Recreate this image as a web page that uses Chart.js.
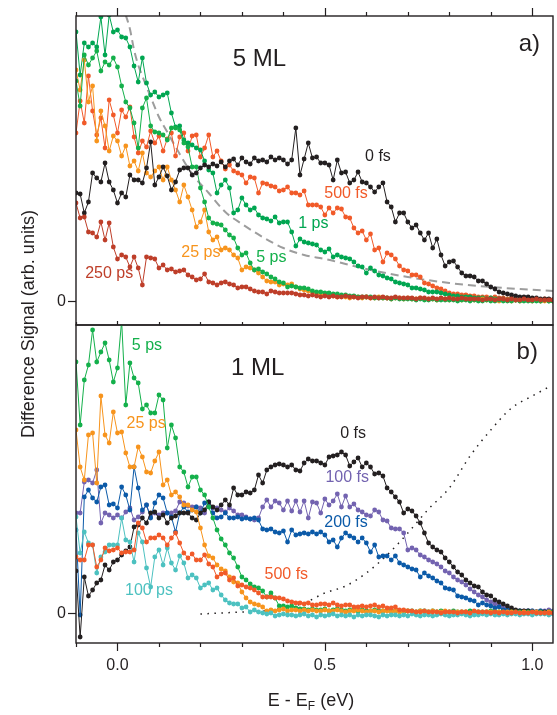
<!DOCTYPE html>
<html>
<head>
<meta charset="utf-8">
<script src="https://cdn.jsdelivr.net/npm/chart.js@4.4.1/dist/chart.umd.min.js"></script>
<style>
body{margin:0;background:#fff}
#wrap{position:relative;width:557px;height:715px;overflow:hidden;font-family:"Liberation Sans",Arial,Helvetica,sans-serif;color:#231f20}
canvas{position:absolute;left:0}
#ytitle{position:absolute;left:-122px;top:314px;width:300px;height:20px;line-height:20px;text-align:center;font-size:18px;transform:rotate(-90deg)}
#xtitle{position:absolute;left:161px;top:689px;width:300px;height:22px;line-height:22px;text-align:center;font-size:18px}
#xtitle sub{font-size:12px;vertical-align:-4px;line-height:0}
</style>
</head>
<body>
<div id="wrap">
<canvas id="topChart" width="557" height="330" style="top:0"></canvas>
<canvas id="botChart" width="557" height="395" style="top:320px"></canvas>
<div id="ytitle">Difference Signal (arb. units)</div>
<div id="xtitle">E - E<sub>F</sub> (eV)</div>
</div>
<script>
// energy grid (eV)
const energy = [
-0.10,-0.09,-0.08,-0.07,-0.06,-0.05,-0.04,-0.03,-0.02,-0.01,
0.00,0.01,0.02,0.03,0.04,0.05,0.06,0.07,0.08,0.09,
0.10,0.11,0.12,0.13,0.14,0.15,0.16,0.17,0.18,0.19,
0.20,0.21,0.22,0.23,0.24,0.25,0.26,0.27,0.28,0.29,
0.30,0.31,0.32,0.33,0.34,0.35,0.36,0.37,0.38,0.39,
0.40,0.41,0.42,0.43,0.44,0.45,0.46,0.47,0.48,0.49,
0.50,0.51,0.52,0.53,0.54,0.55,0.56,0.57,0.58,0.59,
0.60,0.61,0.62,0.63,0.64,0.65,0.66,0.67,0.68,0.69,
0.70,0.71,0.72,0.73,0.74,0.75,0.76,0.77,0.78,0.79,
0.80,0.81,0.82,0.83,0.84,0.85,0.86,0.87,0.88,0.89,
0.90,0.91,0.92,0.93,0.94,0.95,0.96,0.97,0.98,0.99,
1.00,1.01,1.02,1.03,1.04,1.05]

// ---- panel a) 5 ML ----
const a_0fs = [
108,107,88,99,128,123,119,138,119,111,
98,108,104,126,121,121,118,133,159,116,
124,134,125,111,119,131,133,133,126,128,
133,136,134,137,135,139,134,140,142,136,
143,139,137,143,140,141,139,144,141,143,
141,137,141,173,126,142,158,143,144,138,
138,136,121,141,128,129,118,121,129,119,
118,114,109,114,118,99,94,79,88,88,
79,73,76,68,61,68,53,62,46,35,
39,40,34,28,25,25,24,20,20,17,
14,12,9,8,7,6,5,4,4,4,
3,3,2,2,2,1]
const a_500fs = [
168,200,178,225,190,166,183,153,201,186,
168,191,184,194,164,148,160,154,170,158,
165,150,162,168,145,164,168,150,165,166,
144,153,166,144,150,140,132,136,130,128,
126,118,124,123,108,118,117,115,114,110,
111,114,108,108,106,110,96,96,96,94,
86,93,88,93,92,84,83,73,68,70,
61,67,51,53,39,48,46,42,35,31,
30,26,26,24,18,17,15,13,12,10,
8,7,7,6,6,5,5,4,4,4,
3,4,3,3,2,3,2,2,3,2,
2,2,1,2,1,1]
const a_1ps = [
269,226,258,254,258,254,284,246,286,269,
271,264,263,254,235,219,243,218,206,209,
204,206,208,188,174,175,161,158,156,153,
151,140,131,128,108,116,121,113,88,91,
103,96,91,93,86,83,82,80,84,78,
79,79,69,55,62,59,58,57,56,51,
49,52,44,46,44,43,42,39,35,34,
28,33,30,26,25,23,22,19,18,17,
16,13,13,12,11,9,9,9,8,7,
6,5,5,4,4,4,3,3,3,2,
3,2,2,2,1,2,1,1,2,1,
1,1,0,1,0,0]
const a_5ps = [
220,195,246,236,243,250,230,239,236,243,
234,215,199,193,178,153,193,203,175,169,
168,166,161,173,173,171,158,154,134,134,
113,99,83,78,77,76,71,66,63,53,
46,48,38,31,32,29,27,24,22,19,
18,14,15,14,13,13,12,10,9,9,
8,8,7,7,6,6,5,5,4,4,
4,4,3,3,3,3,2,3,2,2,
2,2,1,2,1,1,2,1,1,1,
1,1,0,1,1,0,1,0,0,1,
0,0,1,0,0,0,1,0,0,0,
0,0,0,1,0,0]
const a_25ps = [
231,211,241,199,215,160,190,175,150,165,
160,145,155,135,140,130,148,128,124,130,
134,121,134,121,111,99,116,104,91,74,
79,91,69,61,64,51,53,51,46,43,
31,34,33,31,28,24,20,19,19,16,
17,16,17,14,12,11,10,9,8,6,
6,5,5,4,5,4,3,4,4,3,
4,3,3,4,3,3,2,3,3,2,
3,2,2,3,2,2,2,1,2,2,
1,2,1,1,2,1,1,1,2,1,
1,1,0,1,1,0,1,0,1,1,
0,1,0,0,1,0]
const a_250ps = [
98,83,84,69,68,64,79,61,78,54,
42,46,44,34,44,33,16,44,43,42,
33,36,31,32,29,30,31,26,24,21,
22,27,19,18,16,18,19,17,16,13,
14,14,12,10,9,9,7,10,9,8,
8,8,8,7,6,6,5,6,5,4,
5,4,5,4,4,5,4,4,3,4,
4,3,4,3,4,3,3,4,3,3,
3,3,2,3,3,2,3,2,3,2,
3,2,2,3,2,2,2,2,1,2,
2,1,2,2,1,2,1,1,2,1,
1,2,1,1,1,1]
// fitted curve (dashed)
const a_fitX = [0.02,0.03,0.04,0.05,0.06,0.08,0.10,0.12,0.15,0.18,0.22,0.26,0.30,0.35,0.40,0.45,0.50,0.60,0.70,0.80,0.90,1.05]
const a_fitY = [286,272,251,236,225,204,184,169,147,127,108,89,77,64,53,46,42,32,24,18,14,10]

// ---- panel b) 1 ML ----
const b_0fs = [
42,-24,36,17,23,30,33,48,43,51,
53,58,62,66,86,88,95,90,100,101,
95,98,90,95,97,100,100,100,95,93,
100,103,111,106,103,108,113,108,125,118,
118,121,120,123,138,130,143,146,148,149,
148,146,148,143,142,150,154,152,152,150,
148,156,157,158,161,158,147,151,155,146,
150,146,139,140,137,125,121,116,111,100,
104,102,97,90,80,70,66,63,61,55,
51,46,41,38,33,30,27,26,21,18,
17,13,11,9,7,5,3,2,2,2,
1,1,1,1,1,0]
const b_100fs = [
100,100,131,133,130,143,90,100,98,95,
98,95,101,105,93,96,101,108,96,100,
98,100,100,100,102,111,110,107,106,106,
105,100,110,105,105,103,101,105,102,98,
98,96,94,93,95,106,113,106,112,110,
103,112,102,112,101,112,95,111,110,100,
114,108,112,119,106,117,106,109,103,101,
98,97,103,101,93,92,85,84,84,80,
63,65,63,58,56,53,51,49,46,42,
40,36,33,31,28,24,21,18,16,13,
11,9,7,6,4,3,2,2,2,2,
2,1,2,2,3,2]
const b_200fs = [
83,-2,116,123,115,111,126,128,108,109,
105,126,118,103,146,125,103,108,95,110,
118,115,100,96,81,100,106,101,103,106,
100,110,111,100,95,96,100,95,95,96,
94,95,94,95,93,84,83,84,81,80,
82,71,83,78,79,80,79,81,79,81,
78,71,73,66,75,80,77,75,71,75,
70,61,68,56,57,57,53,57,50,48,
46,44,43,36,40,37,35,32,30,25,
24,23,17,16,15,13,12,8,10,8,
7,5,6,3,3,2,2,2,1,2,
2,1,2,1,1,1]
const b_500fs = [
56,53,53,68,68,46,53,65,62,63,
65,60,61,61,63,90,85,71,75,75,
78,75,68,75,80,70,60,55,59,53,
53,58,49,46,36,39,40,33,35,27,
28,26,25,23,20,16,16,16,15,15,
14,12,11,10,10,9,10,8,8,9,
9,8,10,8,7,8,8,6,6,7,
6,7,8,6,7,5,5,6,3,3,
2,2,1,1,2,1,1,1,0,1,
1,1,0,1,1,0,2,1,1,1,
0,1,0,1,0,0,1,0,0,0,
1,0,0,0,0,0]
const b_5ps = [
251,188,233,248,283,251,261,270,253,231,
245,292,208,250,235,230,204,208,200,200,
218,213,165,188,175,146,141,126,136,136,
123,118,106,95,83,74,68,60,55,46,
36,33,29,26,25,22,16,20,15,7,
7,6,7,5,4,4,3,4,3,3,
4,2,3,4,3,2,3,3,2,3,
2,2,3,2,2,3,2,2,2,1,
2,2,1,2,2,1,2,1,2,1,
1,2,1,1,1,2,1,1,1,1,
2,1,1,1,0,1,1,1,0,1,
1,0,1,0,1,1]
const b_25ps = [
183,146,133,178,180,130,217,178,170,201,
180,181,160,146,146,166,156,141,140,152,
161,128,133,118,121,116,108,108,103,101,
85,68,57,55,48,44,42,36,31,30,
21,15,11,9,8,6,2,3,2,3,
4,2,3,3,2,3,2,3,2,2,
3,2,2,3,2,1,2,2,3,2,
1,2,2,1,2,2,1,2,1,2,
2,1,1,2,1,1,2,1,1,2,
1,0,1,1,1,0,1,1,0,1,
1,0,1,0,1,1,0,0,1,0,
0,1,0,0,1,0]
const b_100ps = [
96,60,81,70,68,40,56,61,68,68,
68,95,73,71,51,80,71,45,26,56,
63,48,65,50,43,57,50,35,38,35,
25,28,30,23,25,18,13,10,9,9,
5,6,1,3,1,0,-1,0,-3,-2,
-1,-2,-2,-3,-2,-1,-3,-2,-4,-2,
-3,-2,-1,-3,-2,-3,-2,-4,-2,-3,
-2,-2,-3,-4,-2,-3,-2,-2,-3,-2,
-3,-1,-2,-3,-2,-2,-3,-2,-1,-2,
-3,-2,-2,-1,-2,-3,-2,-2,-1,-2,
-1,-2,-2,-1,-2,-1,-1,-2,-1,-1,
-2,-1,-1,-1,-2,-1]
// model curve (dotted)
const b_modelX = [0.20,0.25,0.30,0.35,0.40,0.45,0.50,0.55,0.60,0.65,0.70,0.75,0.80,0.85,0.90,0.95,1.00,1.04]
const b_modelY = [-1,0,1,2,5,10,20,27,40,58,80,104,125,157,183,205,217,226]

const xMajor = [0, 0.5, 1.0]
const xMinor = [-0.1,0,0.1,0.2,0.3,0.4,0.5,0.6,0.7,0.8,0.9,1.0]
const xTickLabels = ["0.0", "0.5", "1.0"]

const topLabels = [
  {t:"5 ML", x:0.342, y:242, c:"#231f20", big:true},
  {t:"a)", x:0.993, y:257, c:"#231f20", big:true},
  {t:"0 fs", x:0.628, y:144, c:"#231f20"},
  {t:"500 fs", x:0.551, y:107, c:"#f15a29"},
  {t:"1 ps", x:0.472, y:77, c:"#00a651"},
  {t:"5 ps", x:0.371, y:43, c:"#14b04b"},
  {t:"25 ps", x:0.201, y:48, c:"#f7941d"},
  {t:"250 ps", x:-0.020, y:27, c:"#be3e29"}
]
const botLabels = [
  {t:"1 ML", x:0.338, y:245, c:"#231f20", big:true},
  {t:"b)", x:0.988, y:261, c:"#231f20", big:true},
  {t:"5 ps", x:0.071, y:267, c:"#14b04b"},
  {t:"25 ps", x:0.069, y:189, c:"#f7941d"},
  {t:"0 fs", x:0.568, y:179, c:"#231f20"},
  {t:"100 fs", x:0.554, y:135, c:"#7363b0"},
  {t:"200 fs", x:0.551, y:90, c:"#0b5aa8"},
  {t:"500 fs", x:0.407, y:38, c:"#f15a29"},
  {t:"100 ps", x:0.076, y:22, c:"#4cc1c0"}
]

const FONT = '"Liberation Sans", Arial, Helvetica, sans-serif'
const INK = "#231f20"

function pts(xs, ys){
  return ys.map((v,i)=>({x:xs[i], y:v}))
}

function series(vals, color){
  return {
    data: pts(energy, vals),
    borderColor: color,
    backgroundColor: color,
    borderWidth: 1,
    pointRadius: 2.4,
    pointBorderWidth: 0,
    pointBackgroundColor: color,
    tension: 0
  }
}

const framePlugin = {
  id: "frame",
  afterDatasetsDraw(chart, args, o){
    const ctx = chart.ctx
    const a = chart.chartArea
    const x = chart.scales.x, y = chart.scales.y
    ctx.save()
    ctx.strokeStyle = INK
    ctx.lineWidth = 1.4
    ctx.strokeRect(a.left, a.top, a.right - a.left, a.bottom - a.top)

    // x ticks
    ctx.lineWidth = 1.2
    xMinor.forEach(v=>{
      const px = Math.round(x.getPixelForValue(v)) + 0.5
      const major = xMajor.includes(v)
      if(o.topTicks){
        const len = major ? o.topTicks[0] : o.topTicks[1]
        ctx.beginPath(); ctx.moveTo(px, a.top); ctx.lineTo(px, a.top - len); ctx.stroke()
      }
      if(o.bottomTicks){
        const len = major ? o.bottomTicks[0] : o.bottomTicks[1]
        ctx.beginPath(); ctx.moveTo(px, a.bottom); ctx.lineTo(px, a.bottom + len); ctx.stroke()
      }
    })
    ctx.fillStyle = INK
    if(o.bottomLabels){
      ctx.font = "16px " + FONT
      ctx.textAlign = "center"
      ctx.textBaseline = "middle"
      xMajor.forEach((v,i)=>{
        ctx.fillText(xTickLabels[i], x.getPixelForValue(v), a.bottom + 23)
      })
    }

    // y zero tick
    const py0 = Math.round(y.getPixelForValue(0)) + 0.5
    ctx.beginPath(); ctx.moveTo(a.left, py0); ctx.lineTo(a.left - 8, py0); ctx.stroke()
    ctx.font = "16px " + FONT
    ctx.textAlign = "right"
    ctx.textBaseline = "middle"
    ctx.fillText("0", a.left - 10, py0)

    // curve labels
    ctx.textAlign = "center"
    o.labels.forEach(l=>{
      ctx.font = (l.big ? "24px " : "16px ") + FONT
      ctx.fillStyle = l.c
      ctx.fillText(l.t, x.getPixelForValue(l.x), y.getPixelForValue(l.y))
    })
    ctx.restore()
  }
}

function baseOptions(ymin, ymax, padding, frame){
  return {
    responsive: false,
    animation: false,
    layout: {padding: padding},
    plugins: {legend: {display:false}, tooltip: {enabled:false}, frame: frame},
    scales: {
      x: {type:"linear", min:-0.1, max:1.05, display:false},
      y: {type:"linear", min:ymin, max:ymax, display:false}
    }
  }
}

new Chart(document.getElementById("topChart"), {
  type: "line",
  data: {
    datasets: [
      series(a_250ps, "#be3e29"),
      series(a_0fs, INK),
      series(a_5ps, "#14b04b"),
      series(a_25ps, "#f7941d"),
      series(a_1ps, "#00a651"),
      series(a_500fs, "#f15a29"),
      {
        data: pts(a_fitX, a_fitY),
        borderColor: "#9d9d9d",
        borderWidth: 2,
        borderDash: [8,5],
        pointRadius: 0,
        cubicInterpolationMode: "monotone"
      }
    ]
  },
  options: baseOptions(-24, 285, {top:16, left:76, right:1, bottom:5},
    {topTicks:[8,4], labels: topLabels}),
  plugins: [framePlugin]
})

new Chart(document.getElementById("botChart"), {
  type: "line",
  data: {
    datasets: [
      series(b_500fs, "#f15a29"),
      series(b_100ps, "#4cc1c0"),
      series(b_25ps, "#f7941d"),
      series(b_5ps, "#14b04b"),
      series(b_0fs, INK),
      series(b_200fs, "#0b5aa8"),
      series(b_100fs, "#7363b0"),
      {
        data: pts(b_modelX, b_modelY),
        borderColor: INK,
        borderWidth: 1.5,
        borderDash: [1.5,5.5],
        pointRadius: 0,
        cubicInterpolationMode: "monotone"
      }
    ]
  },
  options: baseOptions(-30, 288, {top:5, left:76, right:1, bottom:72},
    {topTicks:[4,3], bottomTicks:[8,4], bottomLabels:true, labels: botLabels}),
  plugins: [framePlugin]
})
</script>
</body>
</html>
